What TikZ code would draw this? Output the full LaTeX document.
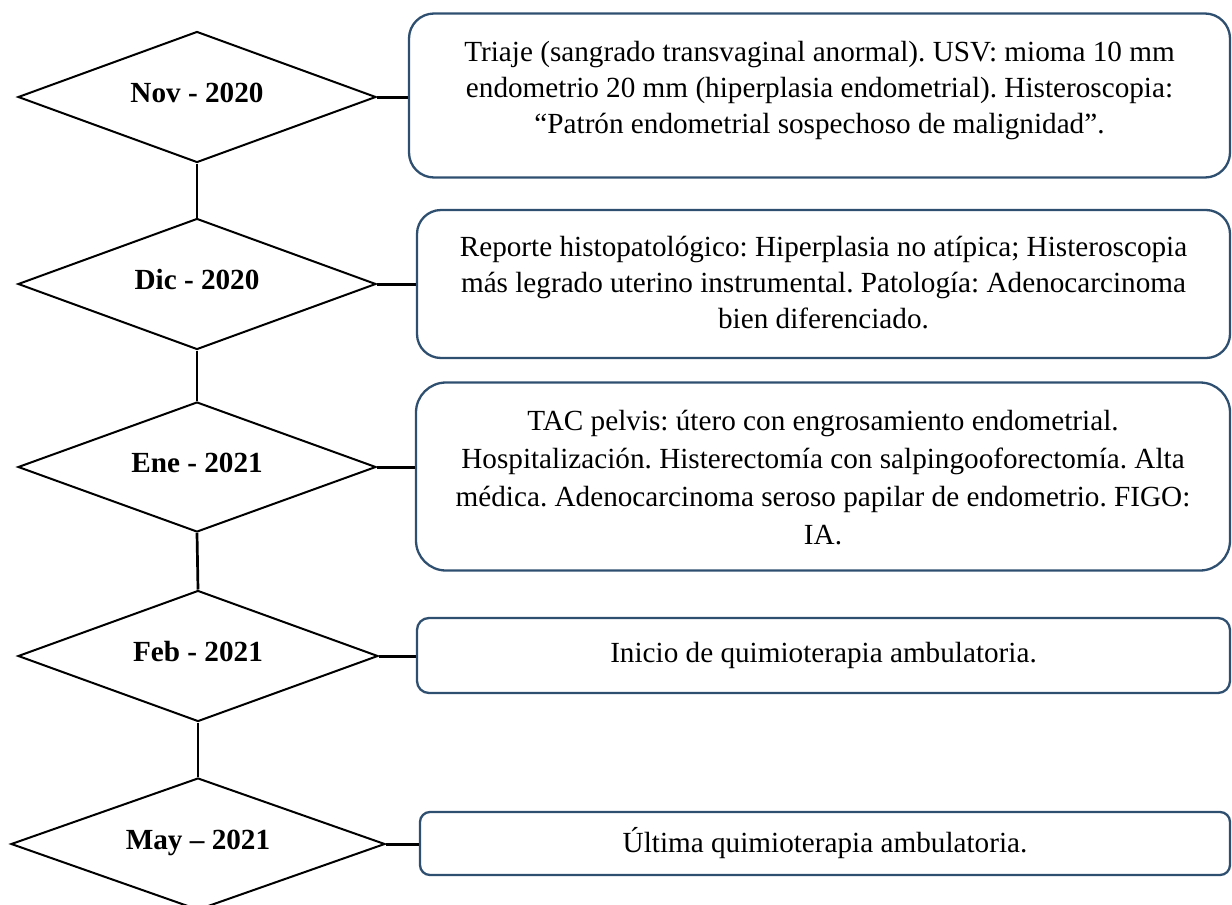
\documentclass[tikz,border=0pt]{standalone}
\usepackage{fontspec}
\setmainfont{Liberation Serif}
\usetikzlibrary{shapes.geometric}
\definecolor{boxline}{HTML}{2F4F70}
\begin{document}
\frenchspacing
\begin{tikzpicture}[x=0.5pt, y=-0.5pt,
  datebox/.style={diamond, draw=black, line width=1pt, aspect=2.733, minimum width=179pt, minimum height=65.5pt, inner sep=0pt,
    font=\fontsize{14.6}{16.5}\selectfont\bfseries, text height=10pt, text depth=5pt},
  evbox/.style={draw=boxline, line width=1.15pt, inner sep=0pt},
  evtext/.style={align=center, font=\fontsize{14.6}{18}\selectfont, inner sep=0pt},
  hlink/.style={draw=black, line width=1.5pt},
  vlink/.style={draw=black, line width=1.35pt}]
\useasboundingbox (0,0) rectangle (1232,905);

% date diamonds
\node[datebox] (d1) at (197,97) {Nov - 2020};
\node[datebox] (d2) at (197,284) {Dic - 2020};
\node[datebox, minimum height=65pt] (d3) at (197,467) {Ene - 2021};
\node[datebox, minimum width=180pt] (d4) at (198,656) {Feb - 2021};
\node[datebox, aspect=2.833, minimum width=187pt, minimum height=66pt] (d5) at (198,844) {May – 2021};

% event boxes
\node[evbox, minimum width=410.5pt, minimum height=82pt, rounded corners=12.5pt] (b1) at (819.5,95.5) {};
\node[evbox, minimum width=406.5pt, minimum height=74pt, rounded corners=12pt] (b2) at (823.5,284) {};
\node[evbox, minimum width=407pt, minimum height=94pt, rounded corners=15pt] (b3) at (823,476.5) {};
\node[evbox, minimum width=406.5pt, minimum height=37.5pt, rounded corners=6pt] (b4) at (823.5,655.5) {};
\node[evbox, minimum width=405pt, minimum height=31.5pt, rounded corners=5pt] (b5) at (825,843.5) {};

% texts
\node[evtext] (t1) at ([yshift=2.5pt]b1.center) {Triaje (sangrado transvaginal anormal). USV: mioma 10 mm\\endometrio 20 mm (hiperplasia endometrial). Histeroscopia:\\“Patrón endometrial sospechoso de malignidad”.};
\node[evtext] (t2) at ([yshift=0.5pt]b2.center) {Reporte histopatológico: Hiperplasia no atípica; Histeroscopia\\más legrado uterino instrumental. Patología: Adenocarcinoma\\bien diferenciado.};
\node[evtext, font=\fontsize{14.6}{19}\selectfont] (t3) at ([yshift=-0.5pt]b3.center) {TAC pelvis: útero con engrosamiento endometrial.\\Hospitalización. Histerectomía con salpingooforectomía. Alta\\médica. Adenocarcinoma seroso papilar de endometrio. FIGO:\\IA.};
\node[evtext] (t4) at (b4.center) {Inicio de quimioterapia ambulatoria.};
\node[evtext] (t5) at (b5.center) {Última quimioterapia ambulatoria.};

% connectors
\draw[hlink] (d1.east) -- (d1.east -| b1.west);
\draw[hlink] (d2.east) -- (d2.east -| b2.west);
\draw[hlink] (d3.east) -- (d3.east -| b3.west);
\draw[hlink] (d4.east) -- (d4.east -| b4.west);
\draw[hlink] (d5.east) -- (d5.east -| b5.west);
\draw[vlink] (d1.south) -- (d2.north);
\draw[vlink] (d2.south) -- (d3.north);
\draw[vlink] (d3.south) -- (d4.north);
\draw[vlink] (d4.south) -- (d5.north);
\end{tikzpicture}
\end{document}
